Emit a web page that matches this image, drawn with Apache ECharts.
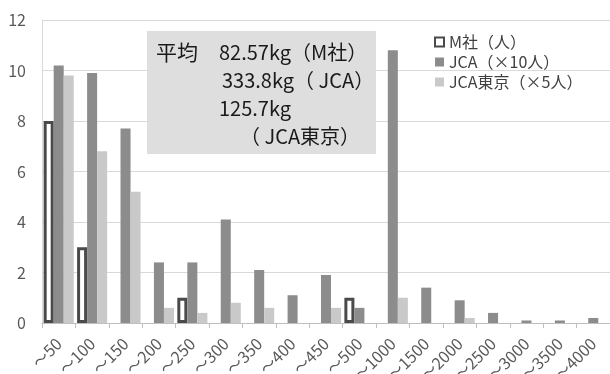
<!DOCTYPE html>
<html>
<head>
<meta charset="utf-8">
<script src="https://cdn.jsdelivr.net/npm/echarts@6/dist/echarts.min.js"></script>
<style>
  html, body { margin: 0; padding: 0; background: #fff; }
  #chart { width: 610px; height: 374px; }
</style>
</head>
<body>
<div id="chart"></div>
<script>
// 重量区分
const categories = ['～50', '～100', '～150', '～200', '～250', '～300', '～350', '～400', '～450', '～500',
  '～1000', '～1500', '～2000', '～2500', '～3000', '～3500', '～4000'];
// M社（人）
const mCompany = [8, 3, null, null, 1, null, null, null, null, 1, null, null, null, null, null, null, null];
// JCA（×10人）
const jca = [10.2, 9.9, 7.7, 2.4, 2.4, 4.1, 2.1, 1.1, 1.9, 0.6, 10.8, 1.4, 0.9, 0.4, 0.1, 0.1, 0.2];
// JCA東京（×5人）
const jcaTokyo = [9.8, 6.8, 5.2, 0.6, 0.4, 0.8, 0.6, 0, 0.6, 0, 1.0, 0, 0.2, 0, 0, 0, 0];
// y軸目盛
const yMin = 0, yMax = 12, yStep = 2;

const seriesNames = ['M社（人）', 'JCA（×10人）', 'JCA東京（×5人）'];
const avgLines = ['82.57kg（M社）', '333.8kg（ JCA）', '125.7kg', '（ JCA東京）'];

const FONT = '"Noto Sans CJK JP", "Noto Sans", sans-serif';

const chart = echarts.init(document.getElementById('chart'));
chart.setOption({
  animation: false,
  backgroundColor: '#ffffff',
  textStyle: { fontFamily: FONT },
  grid: { left: 42, right: 0, top: 20, bottom: 51, containLabel: false, outerBoundsMode: 'none' },
  legend: {
    orient: 'vertical',
    left: 429,
    top: 29,
    itemWidth: 9,
    itemHeight: 9,
    itemGap: 4,
    icon: 'rect',
    textStyle: { fontSize: 16, color: '#404040', fontFamily: FONT },
    data: [
      { name: seriesNames[0], itemStyle: { color: '#ffffff', borderColor: '#4a4a4a', borderWidth: 2 } },
      { name: seriesNames[1], itemStyle: { color: '#8c8c8c' } },
      { name: seriesNames[2], itemStyle: { color: '#c9c9c9' } }
    ]
  },
  xAxis: {
    type: 'category',
    data: categories,
    boundaryGap: true,
    axisLine: { lineStyle: { color: '#bfbfbf', width: 1 } },
    axisTick: { show: true, length: 5, lineStyle: { color: '#bfbfbf' } },
    axisLabel: { rotate: 45, interval: 0, margin: 18, fontSize: 16, color: '#595959', fontFamily: FONT }
  },
  yAxis: {
    type: 'value',
    min: yMin,
    max: yMax,
    interval: yStep,
    axisLine: { show: true, lineStyle: { color: '#d9d9d9' } },
    axisTick: { show: false },
    axisLabel: { margin: 16, fontSize: 16, color: '#595959', fontFamily: FONT },
    splitLine: { lineStyle: { color: '#d9d9d9', width: 1 } }
  },
  series: [
    {
      name: seriesNames[0], type: 'bar', data: mCompany,
      barGap: '0%', barCategoryGap: '10%',
      itemStyle: { color: '#ffffff', borderColor: '#4a4a4a', borderWidth: 3 }
    },
    {
      name: seriesNames[1], type: 'bar', data: jca,
      barGap: '0%', barCategoryGap: '10%',
      itemStyle: { color: '#8c8c8c' }
    },
    {
      name: seriesNames[2], type: 'bar', data: jcaTokyo,
      barGap: '0%', barCategoryGap: '10%',
      itemStyle: { color: '#c9c9c9' }
    }
  ],
  graphic: [
    {
      type: 'rect', z: 100,
      shape: { x: 147, y: 31, width: 229, height: 123 },
      style: { fill: '#dedede' }
    },
    {
      type: 'text', z: 101, x: 156, y: 52,
      style: { text: '平均', font: '21px ' + FONT, fill: '#1a1a1a', textVerticalAlign: 'middle' }
    },
    {
      type: 'text', z: 101, x: 219, y: 52,
      style: { text: avgLines[0], font: '20px ' + FONT, fill: '#1a1a1a', textVerticalAlign: 'middle' }
    },
    {
      type: 'text', z: 101, x: 222, y: 80,
      style: { text: avgLines[1], font: '20px ' + FONT, fill: '#1a1a1a', textVerticalAlign: 'middle' }
    },
    {
      type: 'text', z: 101, x: 219, y: 108,
      style: { text: avgLines[2], font: '20px ' + FONT, fill: '#1a1a1a', textVerticalAlign: 'middle' }
    },
    {
      type: 'text', z: 101, x: 240, y: 136,
      style: { text: avgLines[3], font: '20px ' + FONT, fill: '#1a1a1a', textVerticalAlign: 'middle' }
    }
  ]
});
</script>
</body>
</html>
